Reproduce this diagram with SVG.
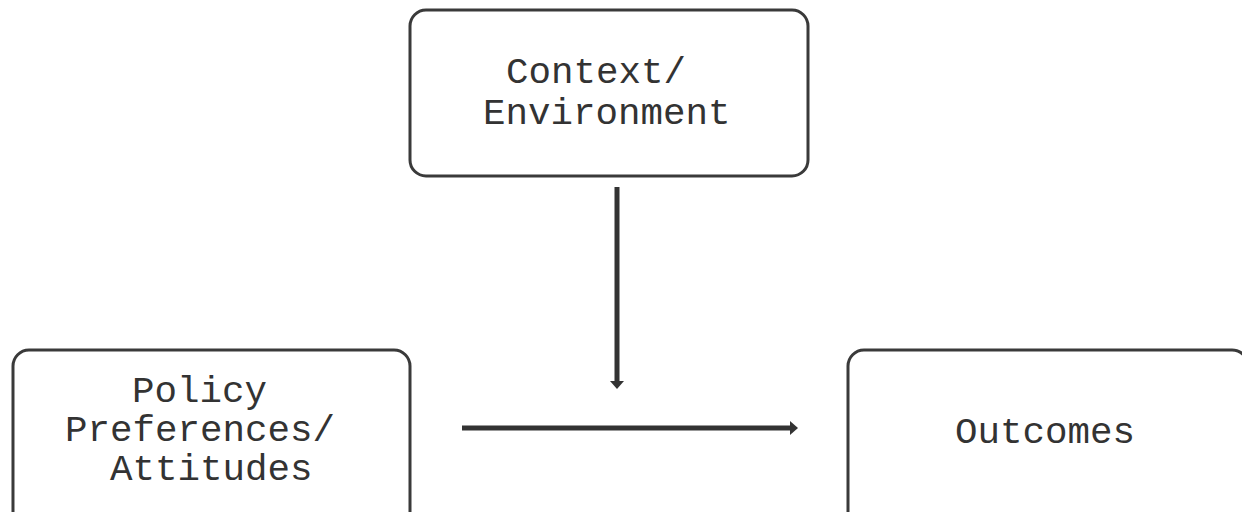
<svg xmlns="http://www.w3.org/2000/svg" width="1242" height="512" viewBox="0 0 1242 512">
<style>
.box{fill:#fff;stroke:#3a3a3a;stroke-width:3}
.lbl{font-family:"Liberation Mono","Courier New",monospace;font-size:37.5px;fill:#333}
.conn{stroke:#333;stroke-width:5;fill:none}
.head{fill:#333}
</style>
<rect width="1242" height="512" fill="#fff"/>
<g id="context">
<rect class="box" x="410" y="10" width="398" height="166" rx="16"/>
<text class="lbl" x="506" y="83">Context/</text>
<text class="lbl" x="483" y="124">Environment</text>
</g>
<g id="policy">
<rect class="box" x="13" y="350" width="397" height="180" rx="16"/>
<text class="lbl" x="132" y="402">Policy</text>
<text class="lbl" x="65" y="441">Preferences/</text>
<text class="lbl" x="110" y="480">Attitudes</text>
</g>
<g id="outcomes">
<rect class="box" x="848" y="350" width="400" height="180" rx="16"/>
<text class="lbl" x="955" y="443">Outcomes</text>
</g>
<g id="connectors">
<line class="conn" x1="617" y1="187" x2="617" y2="382"/>
<polygon class="head" points="610,381 624,381 617,389"/>
<line class="conn" x1="462" y1="428" x2="791" y2="428"/>
<polygon class="head" points="790,421 790,435 798,428"/>
</g>
</svg>
